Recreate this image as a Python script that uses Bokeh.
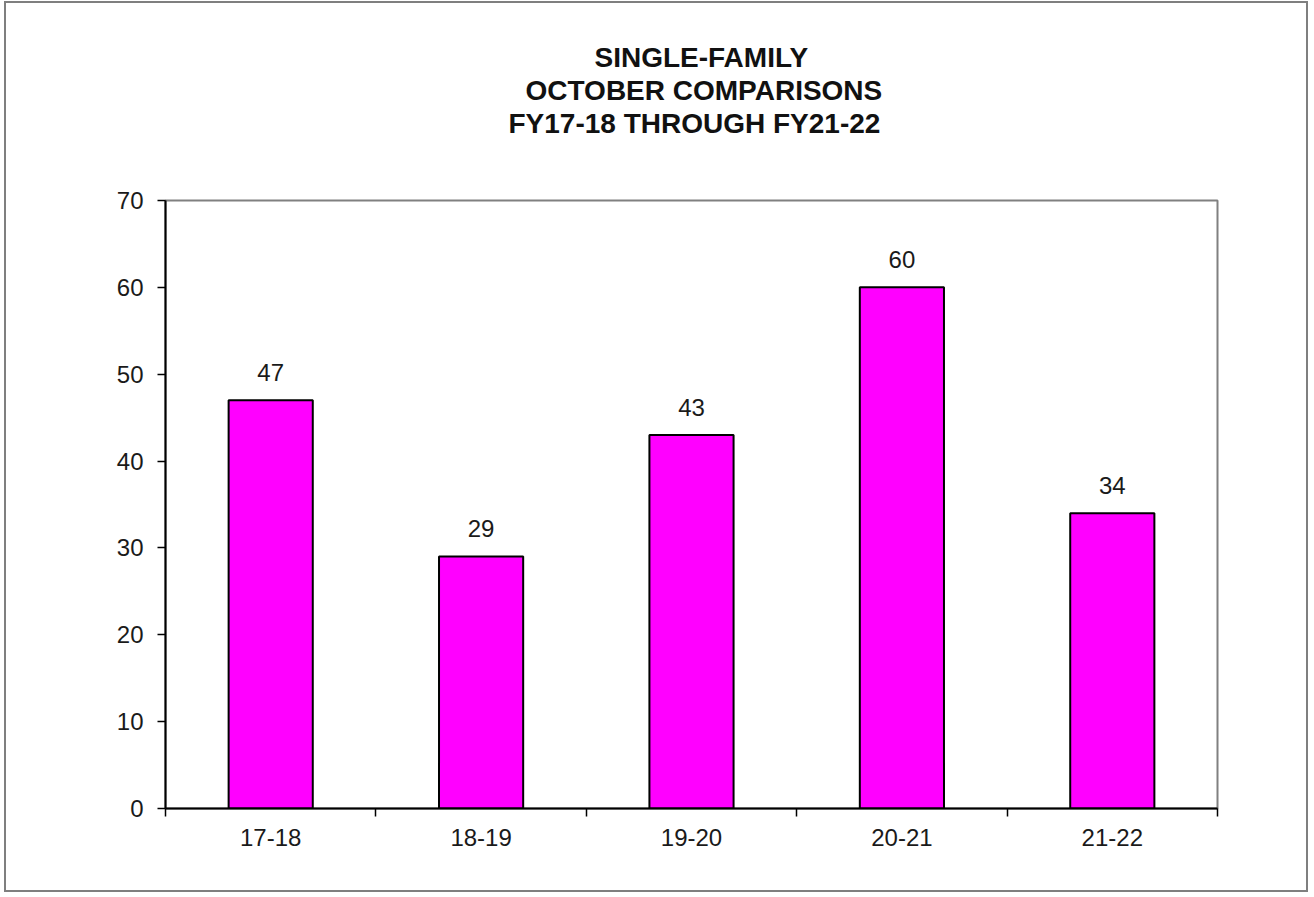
from bokeh.plotting import figure
from bokeh.models import Range1d, FixedTicker, ColumnDataSource, Title
from bokeh.core.properties import value
from bokeh.embed import file_html
from bokeh.resources import INLINE

# ---- data ----
categories = ["17-18", "18-19", "19-20", "20-21", "21-22"]
counts = [47, 29, 43, 60, 34]
y_ticks = [0, 10, 20, 30, 40, 50, 60, 70]
title_lines = ["SINGLE-FAMILY", "OCTOBER COMPARISONS", "FY17-18 THROUGH  FY21-22"]

FONT = "Liberation Sans"
xs = list(range(len(categories)))
src = ColumnDataSource(dict(x=xs, y=counts, label=[str(v) for v in counts]))

p = figure(width=1304, height=891, output_backend="svg", toolbar_location=None,
           x_range=Range1d(-0.5, len(categories) - 0.5), y_range=Range1d(0, 70),
           min_border_left=159, min_border_right=93, min_border_top=197, min_border_bottom=86)
p.styles = {"border": "2px solid #7f7f7f", "margin-left": "4px", "margin-top": "1px"}
p.title = None

# white-on-white spacer between the frame and the title block
p.add_layout(Title(text=".", standoff=41, text_font=FONT, text_font_size="28px",
                   text_color="white"), "above")

# titles: closest to the frame first (left-aligned with offsets so they centre like the original)
title_offsets = [343, 360, 429]
for line, off in zip(reversed(title_lines), title_offsets):
    t = Title(text=line, align="left", text_font=FONT, text_font_size="28px",
              text_font_style="bold", text_color="#111111",
              standoff=0, offset=off)
    p.add_layout(t, "above")

p.xgrid.visible = False
p.ygrid.visible = False
p.outline_line_color = "#808080"
p.outline_line_width = 2

p.vbar(x="x", top="y", width=0.4, source=src, fill_color="#FF00FF",
       line_color="black", line_width=2)
p.text(x="x", y="y", text="label", source=src, text_align="center",
       text_baseline="alphabetic", y_offset=-28, text_font=value(FONT),
       text_font_size="24px", text_color="#1a1a1a")

xa = p.xaxis[0]
xa.ticker = FixedTicker(ticks=xs, minor_ticks=[i - 0.5 for i in range(len(categories) + 1)])
xa.major_label_overrides = {i: c for i, c in enumerate(categories)}
xa.major_tick_out = 0
xa.major_tick_in = 0
xa.minor_tick_out = 8
xa.minor_tick_in = 0
xa.minor_tick_line_color = "black"
xa.minor_tick_line_width = 1.5
xa.axis_line_color = "black"
xa.axis_line_width = 2
xa.major_label_text_font = FONT
xa.major_label_text_font_size = "24px"
xa.major_label_text_color = "#1a1a1a"
xa.major_label_standoff = 12

ya = p.yaxis[0]
ya.ticker = FixedTicker(ticks=y_ticks, minor_ticks=[])
ya.major_tick_out = 8
ya.major_tick_in = 0
ya.major_tick_line_color = "black"
ya.major_tick_line_width = 1.5
ya.minor_tick_line_color = None
ya.axis_line_color = "black"
ya.axis_line_width = 2
ya.major_label_text_font = FONT
ya.major_label_text_font_size = "24px"
ya.major_label_text_color = "#1a1a1a"
ya.major_label_standoff = 14

open("out.html", "w").write(file_html(p, INLINE))
